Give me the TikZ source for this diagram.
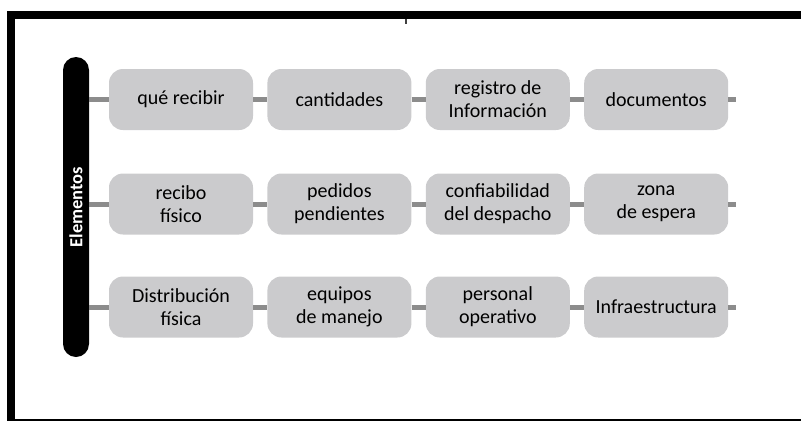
\documentclass[tikz,border=0pt]{standalone}
\usepackage{fontspec}
\setmainfont{Carlito}
\usepackage{tikz}
\usetikzlibrary{positioning}
\definecolor{cajagris}{HTML}{CBCBCD}
\definecolor{lineagris}{HTML}{8C8C8C}
\tikzset{
    caja/.style={fill=cajagris, rounded corners=14pt, minimum width=144pt, minimum height=61pt,
        inner sep=0pt, align=center, font=\fontsize{20}{23}\selectfont},
    barra/.style={fill=black, text=white, rounded corners=13pt, minimum width=300pt,
        minimum height=26pt, inner sep=0pt, rotate=90, font=\bfseries\fontsize{18.5}{21}\selectfont},
    conector/.style={draw=lineagris, line width=5pt},
}

\begin{document}
\begin{tikzpicture}[x=1pt,y=-1pt]
    \useasboundingbox (0,0) rectangle (801,421);
    % marco
    \fill[black] (7,11) rectangle (801,19);
    \fill[black] (7,11) rectangle (15,421);
    \draw[line width=1.5pt] (15,420.2)--(801,420.2);
    \fill[black!75] (405,19) rectangle (407,24);

    \node[barra] (elem) at (76,207) {Elementos};

    % fila 1
    \node[caja] (r1c1) at (181,99.5) {qué recibir};
    \node[caja, right=14pt of r1c1] (r1c2) {cantidades};
    \node[caja, right=14pt of r1c2] (r1c3) {registro de\\Información};
    \node[caja, right=14pt of r1c3] (r1c4) {documentos};
    % fila 2
    \node[caja] (r2c1) at (181,204) {recibo\\físico};
    \node[caja, right=14pt of r2c1] (r2c2) {pedidos\\pendientes};
    \node[caja, right=14pt of r2c2] (r2c3) {confiabilidad\\del despacho};
    \node[caja, right=14pt of r2c3] (r2c4) {zona\\de espera};
    % fila 3
    \node[caja] (r3c1) at (181,307) {Distribución\\física};
    \node[caja, right=14pt of r3c1] (r3c2) {equipos\\de manejo};
    \node[caja, right=14pt of r3c2] (r3c3) {personal\\operativo};
    \node[caja, right=14pt of r3c3] (r3c4) {Infraestructura};

    \foreach \r in {1,2,3}{
        \coordinate (ini\r) at (elem.south |- r\r c1.west);
        \coordinate (fin\r) at ([xshift=8pt]r\r c4.east);
        \draw[conector] (ini\r)--(r\r c1.west);
        \draw[conector] (r\r c1)--(r\r c2);
        \draw[conector] (r\r c2)--(r\r c3);
        \draw[conector] (r\r c3)--(r\r c4);
        \draw[conector] (r\r c4.east)--(fin\r);
    }
\end{tikzpicture}
\end{document}
